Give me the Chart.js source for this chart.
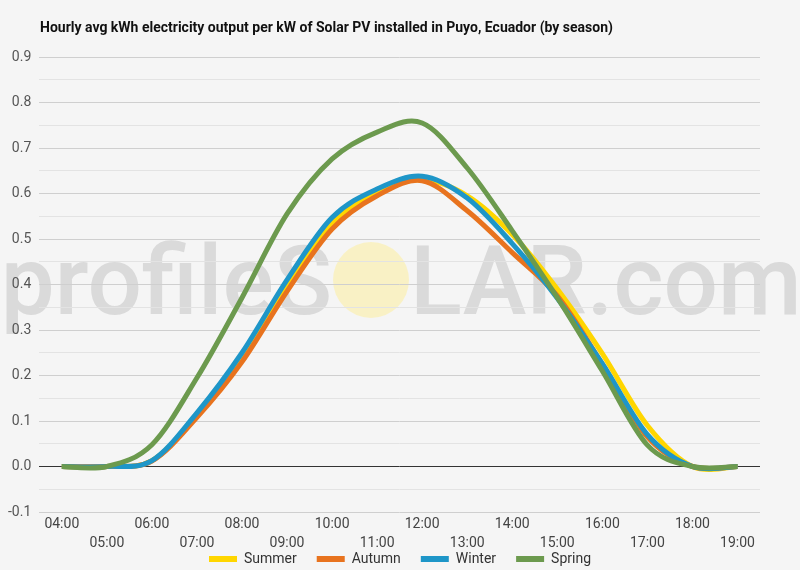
<!DOCTYPE html>
<html>
<head>
<meta charset="utf-8">
<script src="https://cdn.jsdelivr.net/npm/chart.js@4/dist/chart.umd.min.js"></script>
<style>
  html, body { margin: 0; padding: 0; background: #f5f5f5; }
  #wrap { width: 800px; height: 570px; position: relative; }
</style>
</head>
<body>
<div id="wrap"><canvas id="c" width="800" height="570"></canvas></div>
<script>
const titleText = 'Hourly avg kWh electricity output per kW of Solar PV installed in Puyo, Ecuador (by season)';
const hours = ['04:00','05:00','06:00','07:00','08:00','09:00','10:00','11:00','12:00','13:00','14:00','15:00','16:00','17:00','18:00','19:00'];
const seriesNames = ['Summer','Autumn','Winter','Spring'];
const summer = [0, 0, 0.013, 0.113, 0.24, 0.40, 0.535, 0.603, 0.63, 0.595, 0.51, 0.39, 0.248, 0.09, 0.0, 0.0];
const autumn = [0, 0, 0.012, 0.108, 0.23, 0.385, 0.522, 0.595, 0.628, 0.562, 0.47, 0.375, 0.225, 0.065, 0.0, 0.0];
const winter = [0, 0, 0.013, 0.118, 0.25, 0.41, 0.547, 0.61, 0.638, 0.59, 0.49, 0.37, 0.226, 0.07, 0.0, 0.0];
const spring = [0, 0, 0.048, 0.195, 0.371, 0.555, 0.676, 0.735, 0.755, 0.656, 0.518, 0.371, 0.21, 0.047, 0.0, 0.0];
const colors = ['#FFD600', '#E8731E', '#1E96C8', '#6C9A4E'];
const yMin = -0.1, yMax = 0.9;

const bgPlugin = {
  id: 'bg',
  beforeDraw(chart) {
    const ctx = chart.ctx;
    ctx.save();
    ctx.fillStyle = '#f5f5f5';
    ctx.fillRect(0, 0, chart.width, chart.height);
    // watermark
    ctx.font = '500 96px Roboto';
    ctx.fillStyle = 'rgba(195,195,195,0.55)';
    ctx.textBaseline = 'alphabetic';
    ctx.textAlign = 'right';
    ctx.fillText('profileS', 332, 314);
    ctx.textAlign = 'left';
    ctx.fillText('LAR.com', 410, 314);
    ctx.fillStyle = 'rgba(255,238,140,0.45)';
    ctx.beginPath();
    ctx.arc(371, 280, 38, 0, Math.PI * 2);
    ctx.fill();
    // title
    ctx.font = 'bold 14px Roboto';
    ctx.fillStyle = '#111';
    ctx.textAlign = 'left';
    ctx.textBaseline = 'middle';
    ctx.fillText(titleText, 40, 28);
    ctx.restore();
  }
};

// Uniform Catmull-Rom smoothing on the library-computed point positions
const smoothPlugin = {
  id: 'smooth',
  beforeDatasetDraw(chart, args) {
    const meta = args.meta;
    const line = meta.dataset;
    const pts = meta.data;
    const n = pts.length;
    for (let i = 0; i < n; i++) {
      const p = pts[i];
      const prev = pts[i - 1] || p;
      const next = pts[i + 1] || p;
      const dx = (next.x - prev.x) / 6;
      const dy = (next.y - prev.y) / 6;
      p.cp1x = p.x - dx; p.cp1y = p.y - dy;
      p.cp2x = p.x + dx; p.cp2y = p.y + dy;
    }
    line._pointsUpdated = true;
    line._path = undefined;
  }
};

const seriesData = [summer, autumn, winter, spring];
const datasets = seriesNames.map((n, i) => ({
  label: n,
  data: seriesData[i],
  borderColor: colors[i],
  backgroundColor: colors[i],
  borderWidth: 5,
  pointRadius: 0,
  tension: 0.4,
  fill: false,
  order: 3 - i
}));

new Chart(document.getElementById('c'), {
  type: 'line',
  data: { labels: hours, datasets },
  plugins: [bgPlugin, smoothPlugin],
  options: {
    responsive: false,
    animation: false,
    layout: { padding: { top: 57, left: 0, right: 0, bottom: -6 } },
    plugins: {
      title: { display: false },
      tooltip: { enabled: false },
      legend: {
        position: 'bottom',
        labels: {
          boxWidth: 28,
          boxHeight: 6,
          padding: 20,
          color: '#333',
          font: { family: 'Roboto', size: 14 },
          generateLabels: (chart) => Chart.defaults.plugins.legend.labels.generateLabels(chart)
            .map(l => Object.assign(l, { lineWidth: 0, strokeStyle: 'rgba(0,0,0,0)' }))
            .sort((a, b) => a.datasetIndex - b.datasetIndex)
        }
      }
    },
    scales: {
      x: {
        offset: true,
        grid: { display: false, drawTicks: false },
        border: { display: false },
        afterFit: (scale) => { scale.height = 20; scale._computeLabelArea = () => undefined; },
        ticks: {
          autoSkip: false,
          maxRotation: 0,
          padding: 3,
          color: '#444',
          font: { family: 'Roboto', size: 14, lineHeight: 1.35 },
          callback: function(v, i) { const l = hours[i]; return i % 2 === 0 ? l : ['', l]; }
        }
      },
      y: {
        min: yMin,
        max: yMax,
        border: { display: false },
        grid: {
          drawTicks: false,
          color: (c) => {
            const v = Math.round(c.tick.value * 100);
            if (v === 0) return '#333';
            return (v % 10 === 0) ? '#cfcfcf' : '#e3e3e3';
          },
          lineWidth: 1
        },
        ticks: {
          stepSize: 0.05,
          padding: 8,
          color: '#555',
          font: { family: 'Roboto', size: 14 },
          callback: function(v) {
            const r = Math.round(v * 100);
            if (r % 10 !== 0) return '';
            return (r / 100).toFixed(1);
          }
        }
      },
      yRight: {
        type: 'linear',
        position: 'right',
        min: yMin,
        max: yMax,
        grid: { display: false, drawTicks: false },
        border: { display: false },
        ticks: { display: false },
        afterFit: (scale) => { scale.width = 40; }
      }
    }
  }
});
</script>
</body>
</html>
